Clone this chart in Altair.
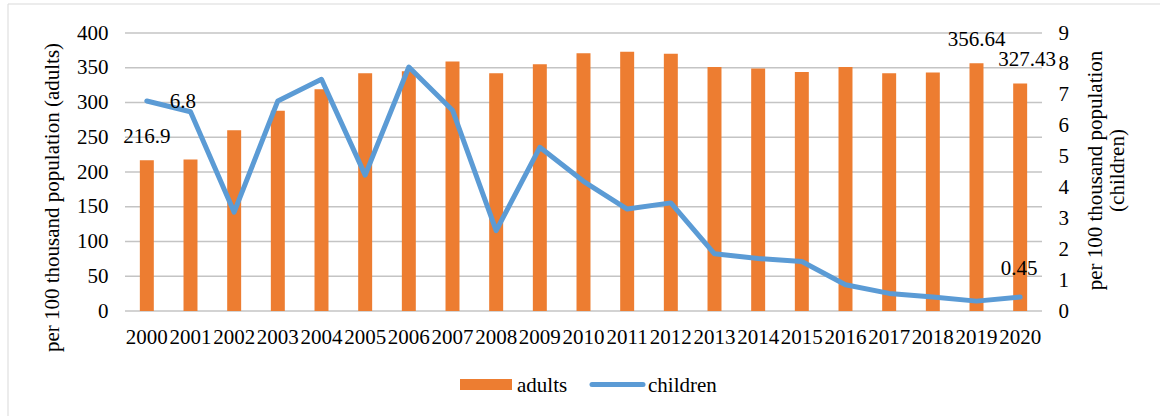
import altair as alt
import pandas as pd

# Yearly rates per 100 thousand population
years = ["2000", "2001", "2002", "2003", "2004", "2005", "2006", "2007", "2008", "2009",
         "2010", "2011", "2012", "2013", "2014", "2015", "2016", "2017", "2018", "2019", "2020"]
adults = [216.9, 218, 260, 288, 319, 342, 345, 359, 342, 355,
          371, 373, 370, 351, 349, 344, 351, 342, 343, 356.64, 327.43]
children = [6.8, 6.45, 3.2, 6.8, 7.5, 4.4, 7.9, 6.5, 2.6, 5.3,
            4.2, 3.3, 3.5, 1.85, 1.7, 1.6, 0.85, 0.57, 0.45, 0.32, 0.45]

left_ticks = [0, 50, 100, 150, 200, 250, 300, 350, 400]
right_ticks = [0, 1, 2, 3, 4, 5, 6, 7, 8, 9]

series_names = ["adults", "children"]
left_title = "per 100 thousand population (adults)"
right_title = ["per 100 thousand population", "(children)"]

ORANGE = "#ED7D31"
BLUE = "#5B9BD5"
GRID = "#c4c4c4"
FRAME = "#d9d9d9"
FONT = "Liberation Serif"
FS = 21

df = pd.DataFrame({"year": years, "adults": adults, "children": children})
grid_df = pd.DataFrame({"gv": left_ticks})

W, H = 917, 278

x_enc = alt.X("year:O", title=None,
              scale=alt.Scale(paddingInner=0.68, paddingOuter=0.34),
              axis=alt.Axis(labelAngle=0, labelPadding=15, ticks=False, domain=False,
                            labelFontSize=FS))

# Both value scales have fixed domains, so every layer maps identically
y_left = alt.Scale(domain=[0, 400])
y_right = alt.Scale(domain=[0, 9])

# Horizontal gridlines at the left-axis ticks, drawn as thin full-width ticks
grid = alt.Chart(grid_df).mark_tick(
    orient="horizontal", color=GRID, size=W, thickness=1.5, opacity=1
).encode(
    x=alt.value(W / 2),
    y=alt.Y("gv:Q", scale=y_left, axis=None),
)

bars = alt.Chart(df).mark_bar(color=ORANGE).encode(
    x=x_enc,
    y=alt.Y("adults:Q", scale=y_left, title=left_title,
            axis=alt.Axis(values=left_ticks, ticks=False, domain=False, grid=False,
                          labelPadding=17, labelFontSize=FS,
                          titleFontSize=FS, titleFontWeight="normal",
                          titleAngle=270, titleX=-73, titleY=164,
                          titleAlign="center", titleBaseline="middle")),
)

line = alt.Chart(df).mark_line(color=BLUE, strokeWidth=5, strokeJoin="round", strokeCap="round").encode(
    x="year:O",
    y=alt.Y("children:Q", scale=y_right, title=right_title,
            axis=alt.Axis(orient="right", values=right_ticks, ticks=False, domain=False,
                          grid=False, labelPadding=16, labelFontSize=FS,
                          titleFontSize=FS, titleFontWeight="normal", titleLineHeight=22,
                          titleAngle=270, titleX=53, titleY=137,
                          titleAlign="center", titleBaseline="middle")),
)

text_style = dict(font=FONT, fontSize=FS, baseline="alphabetic", color="#000000")


def value_label(field, scale, years_shown, dx, dy):
    return alt.Chart(df).mark_text(dx=dx, dy=dy, **text_style).encode(
        x="year:O",
        y=alt.Y(f"{field}:Q", scale=scale, axis=None),
        text=alt.Text(f"{field}:Q", format="~f"),
    ).transform_filter(alt.FieldOneOfPredicate(field="year", oneOf=years_shown))


bar_labels = value_label("adults", y_left, ["2000", "2019"], 0, -17)
bar_label_last = value_label("adults", y_left, ["2020"], 7, -17)
line_label_first = value_label("children", y_right, ["2000"], 36, 7)
line_label_last = value_label("children", y_right, ["2020"], -1, -22)

# Legend and chart-area frame
one = pd.DataFrame({"k": [0]})
leg_text_style = dict(font=FONT, fontSize=FS, align="left", baseline="alphabetic", color="#000000")
frame = alt.Chart(one).mark_rect(filled=False, stroke=FRAME, strokeWidth=1).encode(
    x=alt.value(-117), x2=alt.value(1100), y=alt.value(-29), y2=alt.value(420))
leg_rect = alt.Chart(one).mark_rect(color=ORANGE).encode(
    x=alt.value(335), x2=alt.value(387), y=alt.value(346), y2=alt.value(357))
leg_text1 = alt.Chart(one).mark_text(**leg_text_style).encode(
    x=alt.value(392), y=alt.value(358.5), text=alt.value(series_names[0]))
leg_line = alt.Chart(one).mark_rule(color=BLUE, strokeWidth=5, strokeCap="round").encode(
    x=alt.value(467), x2=alt.value(518), y=alt.value(351.5))
leg_text2 = alt.Chart(one).mark_text(**leg_text_style).encode(
    x=alt.value(523), y=alt.value(358.5), text=alt.value(series_names[1]))

chart = alt.layer(
    grid, bars, line,
    bar_labels, bar_label_last, line_label_first, line_label_last,
    leg_rect, leg_text1, leg_line, leg_text2, frame,
).resolve_scale(y="independent").properties(
    width=W, height=H,
    autosize=alt.AutoSizeParams(type="none"),
    padding={"left": 125, "top": 33, "right": 1160 - 125 - W, "bottom": 416 - 33 - H},
    background="white",
).configure(font=FONT).configure_view(stroke=None).configure_axis(
    labelColor="#000000", titleColor="#000000", labelFont=FONT, titleFont=FONT
)

chart.save("out.html", embed_options={"renderer": "svg", "actions": False})
